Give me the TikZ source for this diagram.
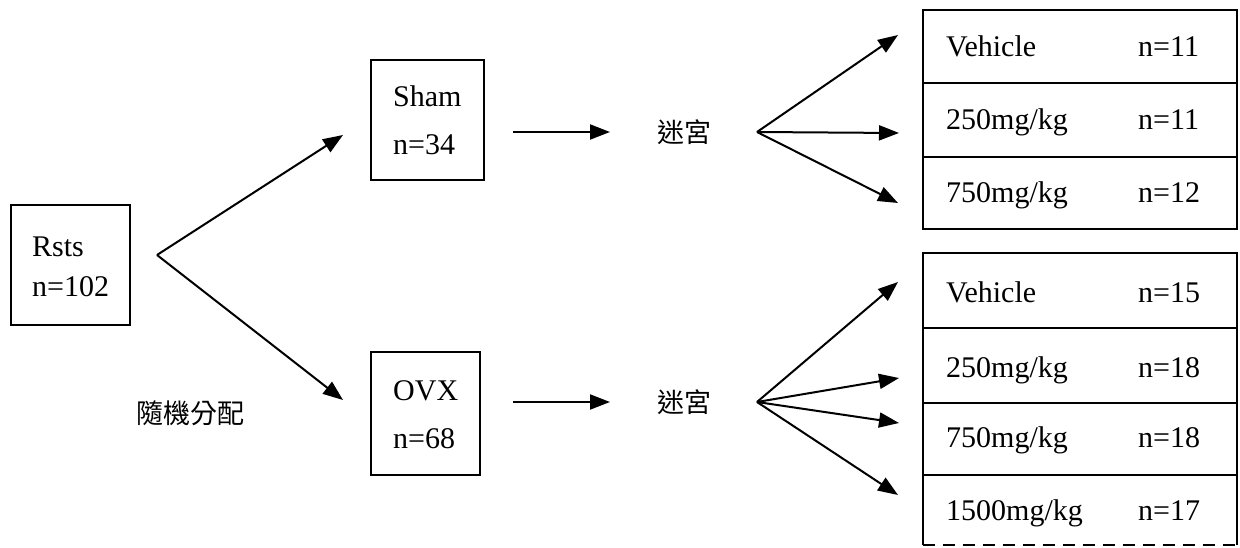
\documentclass[tikz,border=0pt]{standalone}
\usepackage{fontspec}
\setmainfont{Liberation Serif}
\newfontfamily\cjk{Noto Sans CJK TC}
\usetikzlibrary{arrows.meta}
\begin{document}
\begin{tikzpicture}[x=1pt,y=-1pt,
  box/.style={draw, line width=1.6pt, inner sep=0pt},
  rowbox/.style={draw, line width=1.6pt, inner sep=0pt, minimum width=314pt},
  lbl/.style={font=\fontsize{30}{36}\selectfont, inner sep=0pt, anchor=base west},
  cj/.style={font=\cjk\fontsize{27}{32}\selectfont, inner sep=0pt},
  arr/.style={line width=2pt, -{Triangle[length=20pt,width=15pt]}}]
\useasboundingbox (0,0) rectangle (1240,548);
% left boxes
\node[box, minimum width=119pt, minimum height=120pt] (rsts) at (70.5,265) {};
\node[lbl] (rstsA) at (32,257) {Rsts};
\node[lbl] (rstsB) at (32,297) {n=102};
\node[box, minimum width=113pt, minimum height=120pt] (sham) at (427.5,120) {};
\node[lbl] (shamA) at (393,107) {Sham};
\node[lbl] (shamB) at (393,155) {n=34};
\node[box, minimum width=109pt, minimum height=123pt] (ovx) at (425.5,413.5) {};
\node[lbl] (ovxA) at (393,400) {OVX};
\node[lbl] (ovxB) at (393,448) {n=68};
\node[cj] (rand) at (190,413) {隨機分配};
% first fan
\coordinate (v0) at (157,255);
\coordinate (t0a) at (343,135);
\coordinate (t0b) at (343,400);
\draw[arr] (v0) -- (t0a);
\draw[arr] (v0) -- (t0b);
% horizontal arrows
\coordinate (hs1) at (513,132);
\coordinate (hs2) at (610,132);
\coordinate (ho1) at (513,402);
\coordinate (ho2) at (610,402);
\draw[arr] (hs1) -- (hs2);
\draw[arr] (ho1) -- (ho2);
\node[cj] (maze1) at (684,132) {迷宮};
\node[cj] (maze2) at (684,402) {迷宮};
% upper fan
\coordinate (v1) at (757,132);
\coordinate (t1a) at (898,35);
\coordinate (t1b) at (899,133);
\coordinate (t1c) at (898,203);
\draw[arr] (v1) -- (t1a);
\draw[arr] (v1) -- (t1b);
\draw[arr] (v1) -- (t1c);
% lower fan
\coordinate (v2) at (757,402);
\coordinate (t2a) at (898,282);
\coordinate (t2b) at (899,378);
\coordinate (t2c) at (899,423);
\coordinate (t2d) at (898,495);
\draw[arr] (v2) -- (t2a);
\draw[arr] (v2) -- (t2b);
\draw[arr] (v2) -- (t2c);
\draw[arr] (v2) -- (t2d);
% upper group
\node[rowbox, minimum height=73pt] (u1) at (1080,46.5) {};
\node[rowbox, minimum height=74pt] (u2) at (1080,120) {};
\node[rowbox, minimum height=72pt] (u3) at (1080,193) {};
\node[lbl] (u1a) at (946,57) {Vehicle};
\node[lbl] (u1b) at (1138,57) {n=11};
\node[lbl] (u2a) at (946,130) {250mg/kg};
\node[lbl] (u2b) at (1138,130) {n=11};
\node[lbl] (u3a) at (946,203) {750mg/kg};
\node[lbl] (u3b) at (1138,203) {n=12};
% lower group
\node[rowbox, minimum height=75pt] (l1) at (1080,290.5) {};
\node[rowbox, minimum height=75pt] (l2) at (1080,365.5) {};
\node[rowbox, minimum height=72pt] (l3) at (1080,439) {};
\node[inner sep=0pt, minimum width=314pt, minimum height=70pt] (l4) at (1080,510) {};
\draw[line width=1.6pt] (l4.south west) -- (l4.north west) -- (l4.north east) -- (l4.south east);
\draw[line width=1.6pt, dash pattern=on 12pt off 8pt] (l4.south west) -- (l4.south east);
\node[lbl] (l1a) at (946,302) {Vehicle};
\node[lbl] (l1b) at (1138,302) {n=15};
\node[lbl] (l2a) at (946,377) {250mg/kg};
\node[lbl] (l2b) at (1138,377) {n=18};
\node[lbl] (l3a) at (946,447) {750mg/kg};
\node[lbl] (l3b) at (1138,447) {n=18};
\node[lbl] (l4a) at (946,520) {1500mg/kg};
\node[lbl] (l4b) at (1138,520) {n=17};
\end{tikzpicture}
\end{document}
